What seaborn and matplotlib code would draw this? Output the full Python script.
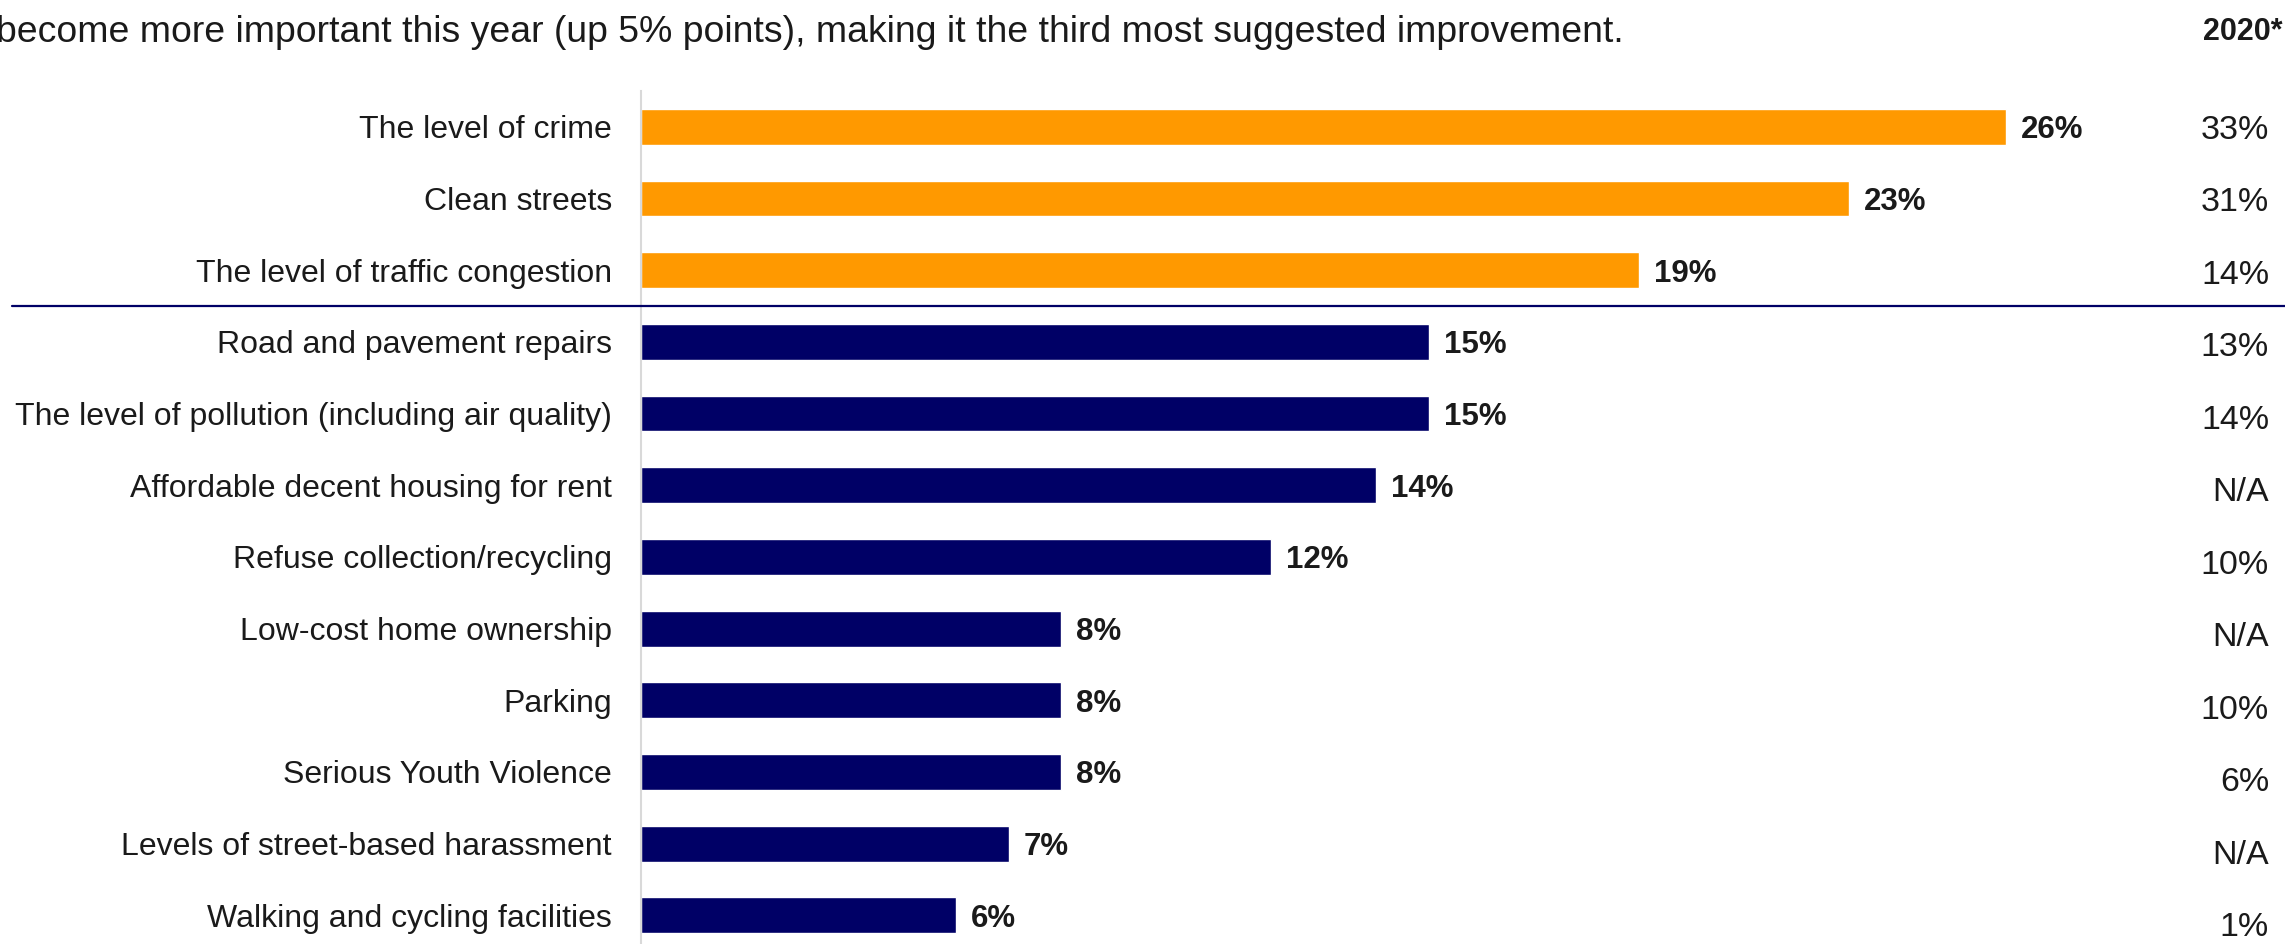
import matplotlib
matplotlib.use("Agg")
import matplotlib.pyplot as plt
from matplotlib.lines import Line2D
from matplotlib.transforms import blended_transform_factory
import pandas as pd
import seaborn as sns

# Suggested improvements, share of respondents (%)
categories = [
    "The level of crime",
    "Clean streets",
    "The level of traffic congestion",
    "Road and pavement repairs",
    "The level of pollution (including air quality)",
    "Affordable decent housing for rent",
    "Refuse collection/recycling",
    "Low-cost home ownership",
    "Parking",
    "Serious Youth Violence",
    "Levels of street-based harassment",
    "Walking and cycling facilities",
]
values_2021 = [26, 23, 19, 15, 15, 14, 12, 8, 8, 8, 7, 6]
values_2020 = ["33%", "31%", "14%", "13%", "14%", "N/A", "10%", "N/A", "10%", "6%", "N/A", "1%"]
top_n = 3  # highlighted top three

subtitle = ("become more important this year (up 5% points), making it the third "
            "most suggested improvement.")
column_header = "2020*"

ORANGE = "#FF9900"
NAVY = "#000066"
TEXT = "#1a1a1a"

sns.set_theme(style="white")
plt.rcParams["font.family"] = ["Liberation Sans", "DejaVu Sans"]

W, H = 2285, 944
fig = plt.figure(figsize=(W / 100, H / 100), dpi=100)
ax = fig.add_axes([641 / W, 0, 1575 / W, 1 - 91 / H])

df = pd.DataFrame({"category": categories, "value": values_2021})
palette = [ORANGE if i < top_n else NAVY for i in range(len(categories))]

sns.barplot(data=df, x="value", y="category", hue="category", palette=palette,
            legend=False, width=0.5, saturation=1, ax=ax, orient="h")

ax.set_xlim(0, 30)
ax.set_ylim(11.40, -0.5)
ax.set_xlabel("")
ax.set_ylabel("")
ax.set_xticks([])
ax.tick_params(axis="y", length=0, pad=21, labelsize=23, labelcolor=TEXT)

for side in ("top", "right", "bottom"):
    ax.spines[side].set_visible(False)
ax.spines["left"].set_color("#d9d9d9")
ax.spines["left"].set_linewidth(1.5)

for cont in ax.containers:
    texts = ax.bar_label(cont, labels=[f"{int(round(b.get_width()))}%" for b in cont],
                         padding=11, fontsize=22.5, fontweight="bold", color=TEXT)
    for t in texts:
        t.set_verticalalignment("center_baseline")

# Divider between the top three and the rest
tr = blended_transform_factory(fig.transFigure, ax.transData)
fig.add_artist(Line2D([12 / W, 1.0], [2.5, 2.5], transform=tr,
                      color=NAVY, linewidth=1.6))

# Previous-year column
for i, t in enumerate(values_2020):
    ax.text(2269 / W, i * 1.011, t, transform=tr, ha="right",
            va="center_baseline", fontsize=24.5, color=TEXT)

fig.text(-4 / W, 1 - 28 / H, subtitle, ha="left", va="center_baseline",
         fontsize=26.9, color=TEXT)
fig.text(2282 / W, 1 - 28 / H, column_header, ha="right", va="center_baseline",
         fontsize=22, fontweight="bold", color=TEXT)

fig.savefig("out.png", dpi=100)
